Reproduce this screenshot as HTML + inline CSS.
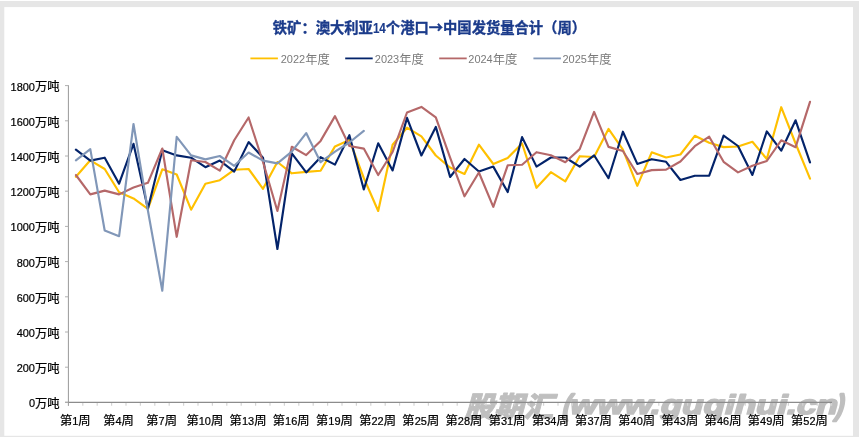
<!DOCTYPE html>
<html lang="zh-CN"><head><meta charset="utf-8"><title>铁矿：澳大利亚14个港口→中国发货量合计（周）</title>
<style>html,body{margin:0;padding:0;background:#fff}svg{display:block}text{font-family:'Liberation Sans','Noto Sans CJK SC',sans-serif}</style></head><body>
<svg width="865" height="437" viewBox="0 0 865 437">
<rect x="0" y="0" width="865" height="437" fill="#ffffff"/>
<rect x="0" y="1" width="859" height="436" fill="#e6e6e6"/>
<rect x="4.3" y="7.1" width="848.7" height="428.7" fill="#ffffff"/>
<g transform="translate(464.5,416.6) skewX(-15)" fill="#bfbfbf" stroke="#bfbfbf" stroke-linejoin="round"><text x="0" y="0" font-size="28.5" font-weight="900" stroke-width="0.9" textLength="88.5" lengthAdjust="spacingAndGlyphs">股期汇</text><text x="96.8" y="-1.2" font-size="29" font-weight="bold" stroke-width="2.6" textLength="7.5" lengthAdjust="spacingAndGlyphs">(</text><text x="103.5" y="-2.4" font-size="27" font-weight="bold" stroke-width="1.7" textLength="267.5" lengthAdjust="spacingAndGlyphs">www.guqihui.cn</text><text x="370" y="-1.2" font-size="29" font-weight="bold" stroke-width="2.6" textLength="7.5" lengthAdjust="spacingAndGlyphs">)</text></g>
<text x="272.80" y="32.60" font-size="14.3" fill="#1b3b8b" font-weight="bold" stroke="#1b3b8b" stroke-width="0.35"><tspan>铁矿：澳大利亚</tspan><tspan font-size="14.60" stroke="#1b3b8b" stroke-width="0.12" textLength="12.99" lengthAdjust="spacingAndGlyphs">14</tspan><tspan>个港口</tspan><tspan font-family="'Noto Sans CJK SC',sans-serif">→</tspan><tspan>中国发货量合计（周）</tspan></text>
<line x1="250.4" y1="58.4" x2="277.9" y2="58.4" stroke="#ffc000" stroke-width="1.8"/>
<text x="280.70" y="63.00" font-size="12.3" fill="#7a7a7a" font-weight="normal"><tspan font-size="11.70" textLength="24.45" lengthAdjust="spacingAndGlyphs">2022</tspan><tspan dy="0.80">年度</tspan></text>
<line x1="345.2" y1="58.4" x2="372.7" y2="58.4" stroke="#03236a" stroke-width="1.8"/>
<text x="374.80" y="63.00" font-size="12.3" fill="#7a7a7a" font-weight="normal"><tspan font-size="11.70" textLength="24.45" lengthAdjust="spacingAndGlyphs">2023</tspan><tspan dy="0.80">年度</tspan></text>
<line x1="439.2" y1="58.4" x2="466.7" y2="58.4" stroke="#b56869" stroke-width="1.8"/>
<text x="468.30" y="63.00" font-size="12.3" fill="#7a7a7a" font-weight="normal"><tspan font-size="11.70" textLength="24.45" lengthAdjust="spacingAndGlyphs">2024</tspan><tspan dy="0.80">年度</tspan></text>
<line x1="533.4" y1="58.4" x2="560.9" y2="58.4" stroke="#8197b8" stroke-width="1.8"/>
<text x="562.50" y="63.00" font-size="12.3" fill="#7a7a7a" font-weight="normal"><tspan font-size="11.70" textLength="24.45" lengthAdjust="spacingAndGlyphs">2025</tspan><tspan dy="0.80">年度</tspan></text>
<line x1="68.4" y1="85.2" x2="68.4" y2="405.9" stroke="#999999" stroke-width="1"/>
<line x1="65" y1="402.4" x2="832" y2="402.4" stroke="#8c8c8c" stroke-width="1.2"/>
<line x1="65" y1="402.40" x2="68.4" y2="402.40" stroke="#b0b0b0" stroke-width="1"/>
<text x="28.89" y="407.30" font-size="12.3" fill="#000000" font-weight="normal" stroke="#000000" stroke-width="0.22"><tspan font-size="11.70" textLength="6.11" lengthAdjust="spacingAndGlyphs">0</tspan><tspan dy="0.80">万吨</tspan></text>
<line x1="65" y1="367.20" x2="68.4" y2="367.20" stroke="#b0b0b0" stroke-width="1"/>
<text x="16.66" y="372.10" font-size="12.3" fill="#000000" font-weight="normal" stroke="#000000" stroke-width="0.22"><tspan font-size="11.70" textLength="18.34" lengthAdjust="spacingAndGlyphs">200</tspan><tspan dy="0.80">万吨</tspan></text>
<line x1="65" y1="332.00" x2="68.4" y2="332.00" stroke="#b0b0b0" stroke-width="1"/>
<text x="16.66" y="336.90" font-size="12.3" fill="#000000" font-weight="normal" stroke="#000000" stroke-width="0.22"><tspan font-size="11.70" textLength="18.34" lengthAdjust="spacingAndGlyphs">400</tspan><tspan dy="0.80">万吨</tspan></text>
<line x1="65" y1="296.80" x2="68.4" y2="296.80" stroke="#b0b0b0" stroke-width="1"/>
<text x="16.66" y="301.70" font-size="12.3" fill="#000000" font-weight="normal" stroke="#000000" stroke-width="0.22"><tspan font-size="11.70" textLength="18.34" lengthAdjust="spacingAndGlyphs">600</tspan><tspan dy="0.80">万吨</tspan></text>
<line x1="65" y1="261.60" x2="68.4" y2="261.60" stroke="#b0b0b0" stroke-width="1"/>
<text x="16.66" y="266.50" font-size="12.3" fill="#000000" font-weight="normal" stroke="#000000" stroke-width="0.22"><tspan font-size="11.70" textLength="18.34" lengthAdjust="spacingAndGlyphs">800</tspan><tspan dy="0.80">万吨</tspan></text>
<line x1="65" y1="226.40" x2="68.4" y2="226.40" stroke="#b0b0b0" stroke-width="1"/>
<text x="10.55" y="231.30" font-size="12.3" fill="#000000" font-weight="normal" stroke="#000000" stroke-width="0.22"><tspan font-size="11.70" textLength="24.45" lengthAdjust="spacingAndGlyphs">1000</tspan><tspan dy="0.80">万吨</tspan></text>
<line x1="65" y1="191.20" x2="68.4" y2="191.20" stroke="#b0b0b0" stroke-width="1"/>
<text x="10.55" y="196.10" font-size="12.3" fill="#000000" font-weight="normal" stroke="#000000" stroke-width="0.22"><tspan font-size="11.70" textLength="24.45" lengthAdjust="spacingAndGlyphs">1200</tspan><tspan dy="0.80">万吨</tspan></text>
<line x1="65" y1="156.00" x2="68.4" y2="156.00" stroke="#b0b0b0" stroke-width="1"/>
<text x="10.55" y="160.90" font-size="12.3" fill="#000000" font-weight="normal" stroke="#000000" stroke-width="0.22"><tspan font-size="11.70" textLength="24.45" lengthAdjust="spacingAndGlyphs">1400</tspan><tspan dy="0.80">万吨</tspan></text>
<line x1="65" y1="120.80" x2="68.4" y2="120.80" stroke="#b0b0b0" stroke-width="1"/>
<text x="10.55" y="125.70" font-size="12.3" fill="#000000" font-weight="normal" stroke="#000000" stroke-width="0.22"><tspan font-size="11.70" textLength="24.45" lengthAdjust="spacingAndGlyphs">1600</tspan><tspan dy="0.80">万吨</tspan></text>
<line x1="65" y1="85.60" x2="68.4" y2="85.60" stroke="#b0b0b0" stroke-width="1"/>
<text x="10.55" y="90.50" font-size="12.3" fill="#000000" font-weight="normal" stroke="#000000" stroke-width="0.22"><tspan font-size="11.70" textLength="24.45" lengthAdjust="spacingAndGlyphs">1800</tspan><tspan dy="0.80">万吨</tspan></text>
<line x1="82.80" y1="403" x2="82.80" y2="405.7" stroke="#d4d4d4" stroke-width="1.2"/>
<line x1="97.20" y1="403" x2="97.20" y2="405.7" stroke="#d4d4d4" stroke-width="1.2"/>
<line x1="111.60" y1="403" x2="111.60" y2="405.7" stroke="#d4d4d4" stroke-width="1.2"/>
<line x1="126.00" y1="403" x2="126.00" y2="405.7" stroke="#d4d4d4" stroke-width="1.2"/>
<line x1="140.40" y1="403" x2="140.40" y2="405.7" stroke="#d4d4d4" stroke-width="1.2"/>
<line x1="154.80" y1="403" x2="154.80" y2="405.7" stroke="#d4d4d4" stroke-width="1.2"/>
<line x1="169.20" y1="403" x2="169.20" y2="405.7" stroke="#d4d4d4" stroke-width="1.2"/>
<line x1="183.60" y1="403" x2="183.60" y2="405.7" stroke="#d4d4d4" stroke-width="1.2"/>
<line x1="198.00" y1="403" x2="198.00" y2="405.7" stroke="#d4d4d4" stroke-width="1.2"/>
<line x1="212.40" y1="403" x2="212.40" y2="405.7" stroke="#d4d4d4" stroke-width="1.2"/>
<line x1="226.80" y1="403" x2="226.80" y2="405.7" stroke="#d4d4d4" stroke-width="1.2"/>
<line x1="241.20" y1="403" x2="241.20" y2="405.7" stroke="#d4d4d4" stroke-width="1.2"/>
<line x1="255.60" y1="403" x2="255.60" y2="405.7" stroke="#d4d4d4" stroke-width="1.2"/>
<line x1="270.00" y1="403" x2="270.00" y2="405.7" stroke="#d4d4d4" stroke-width="1.2"/>
<line x1="284.40" y1="403" x2="284.40" y2="405.7" stroke="#d4d4d4" stroke-width="1.2"/>
<line x1="298.80" y1="403" x2="298.80" y2="405.7" stroke="#d4d4d4" stroke-width="1.2"/>
<line x1="313.20" y1="403" x2="313.20" y2="405.7" stroke="#d4d4d4" stroke-width="1.2"/>
<line x1="327.60" y1="403" x2="327.60" y2="405.7" stroke="#d4d4d4" stroke-width="1.2"/>
<line x1="342.00" y1="403" x2="342.00" y2="405.7" stroke="#d4d4d4" stroke-width="1.2"/>
<line x1="356.40" y1="403" x2="356.40" y2="405.7" stroke="#d4d4d4" stroke-width="1.2"/>
<line x1="370.80" y1="403" x2="370.80" y2="405.7" stroke="#d4d4d4" stroke-width="1.2"/>
<line x1="385.20" y1="403" x2="385.20" y2="405.7" stroke="#d4d4d4" stroke-width="1.2"/>
<line x1="399.60" y1="403" x2="399.60" y2="405.7" stroke="#d4d4d4" stroke-width="1.2"/>
<line x1="414.00" y1="403" x2="414.00" y2="405.7" stroke="#d4d4d4" stroke-width="1.2"/>
<line x1="428.40" y1="403" x2="428.40" y2="405.7" stroke="#d4d4d4" stroke-width="1.2"/>
<line x1="442.80" y1="403" x2="442.80" y2="405.7" stroke="#d4d4d4" stroke-width="1.2"/>
<line x1="457.20" y1="403" x2="457.20" y2="405.7" stroke="#d4d4d4" stroke-width="1.2"/>
<line x1="471.60" y1="403" x2="471.60" y2="405.7" stroke="#d4d4d4" stroke-width="1.2"/>
<line x1="486.00" y1="403" x2="486.00" y2="405.7" stroke="#d4d4d4" stroke-width="1.2"/>
<line x1="500.40" y1="403" x2="500.40" y2="405.7" stroke="#d4d4d4" stroke-width="1.2"/>
<line x1="514.80" y1="403" x2="514.80" y2="405.7" stroke="#d4d4d4" stroke-width="1.2"/>
<line x1="529.20" y1="403" x2="529.20" y2="405.7" stroke="#d4d4d4" stroke-width="1.2"/>
<line x1="543.60" y1="403" x2="543.60" y2="405.7" stroke="#d4d4d4" stroke-width="1.2"/>
<line x1="558.00" y1="403" x2="558.00" y2="405.7" stroke="#d4d4d4" stroke-width="1.2"/>
<line x1="572.40" y1="403" x2="572.40" y2="405.7" stroke="#d4d4d4" stroke-width="1.2"/>
<line x1="586.80" y1="403" x2="586.80" y2="405.7" stroke="#d4d4d4" stroke-width="1.2"/>
<line x1="601.20" y1="403" x2="601.20" y2="405.7" stroke="#d4d4d4" stroke-width="1.2"/>
<line x1="615.60" y1="403" x2="615.60" y2="405.7" stroke="#d4d4d4" stroke-width="1.2"/>
<line x1="630.00" y1="403" x2="630.00" y2="405.7" stroke="#d4d4d4" stroke-width="1.2"/>
<line x1="644.40" y1="403" x2="644.40" y2="405.7" stroke="#d4d4d4" stroke-width="1.2"/>
<line x1="658.80" y1="403" x2="658.80" y2="405.7" stroke="#d4d4d4" stroke-width="1.2"/>
<line x1="673.20" y1="403" x2="673.20" y2="405.7" stroke="#d4d4d4" stroke-width="1.2"/>
<line x1="687.60" y1="403" x2="687.60" y2="405.7" stroke="#d4d4d4" stroke-width="1.2"/>
<line x1="702.00" y1="403" x2="702.00" y2="405.7" stroke="#d4d4d4" stroke-width="1.2"/>
<line x1="716.40" y1="403" x2="716.40" y2="405.7" stroke="#d4d4d4" stroke-width="1.2"/>
<line x1="730.80" y1="403" x2="730.80" y2="405.7" stroke="#d4d4d4" stroke-width="1.2"/>
<line x1="745.20" y1="403" x2="745.20" y2="405.7" stroke="#d4d4d4" stroke-width="1.2"/>
<line x1="759.60" y1="403" x2="759.60" y2="405.7" stroke="#d4d4d4" stroke-width="1.2"/>
<line x1="774.00" y1="403" x2="774.00" y2="405.7" stroke="#d4d4d4" stroke-width="1.2"/>
<line x1="788.40" y1="403" x2="788.40" y2="405.7" stroke="#d4d4d4" stroke-width="1.2"/>
<line x1="802.80" y1="403" x2="802.80" y2="405.7" stroke="#d4d4d4" stroke-width="1.2"/>
<line x1="817.20" y1="403" x2="817.20" y2="405.7" stroke="#d4d4d4" stroke-width="1.2"/>
<line x1="831.60" y1="403" x2="831.60" y2="405.7" stroke="#d4d4d4" stroke-width="1.2"/>
<text x="59.94" y="424.60" font-size="12.3" fill="#000000" font-weight="normal" stroke="#000000" stroke-width="0.22"><tspan dy="0.80">第</tspan><tspan dy="-0.80" font-size="11.70" textLength="6.11" lengthAdjust="spacingAndGlyphs">1</tspan><tspan dy="0.80">周</tspan></text>
<text x="103.13" y="424.60" font-size="12.3" fill="#000000" font-weight="normal" stroke="#000000" stroke-width="0.22"><tspan dy="0.80">第</tspan><tspan dy="-0.80" font-size="11.70" textLength="6.11" lengthAdjust="spacingAndGlyphs">4</tspan><tspan dy="0.80">周</tspan></text>
<text x="146.31" y="424.60" font-size="12.3" fill="#000000" font-weight="normal" stroke="#000000" stroke-width="0.22"><tspan dy="0.80">第</tspan><tspan dy="-0.80" font-size="11.70" textLength="6.11" lengthAdjust="spacingAndGlyphs">7</tspan><tspan dy="0.80">周</tspan></text>
<text x="186.43" y="424.60" font-size="12.3" fill="#000000" font-weight="normal" stroke="#000000" stroke-width="0.22"><tspan dy="0.80">第</tspan><tspan dy="-0.80" font-size="11.70" textLength="12.23" lengthAdjust="spacingAndGlyphs">10</tspan><tspan dy="0.80">周</tspan></text>
<text x="229.61" y="424.60" font-size="12.3" fill="#000000" font-weight="normal" stroke="#000000" stroke-width="0.22"><tspan dy="0.80">第</tspan><tspan dy="-0.80" font-size="11.70" textLength="12.23" lengthAdjust="spacingAndGlyphs">13</tspan><tspan dy="0.80">周</tspan></text>
<text x="272.80" y="424.60" font-size="12.3" fill="#000000" font-weight="normal" stroke="#000000" stroke-width="0.22"><tspan dy="0.80">第</tspan><tspan dy="-0.80" font-size="11.70" textLength="12.23" lengthAdjust="spacingAndGlyphs">16</tspan><tspan dy="0.80">周</tspan></text>
<text x="315.98" y="424.60" font-size="12.3" fill="#000000" font-weight="normal" stroke="#000000" stroke-width="0.22"><tspan dy="0.80">第</tspan><tspan dy="-0.80" font-size="11.70" textLength="12.23" lengthAdjust="spacingAndGlyphs">19</tspan><tspan dy="0.80">周</tspan></text>
<text x="359.16" y="424.60" font-size="12.3" fill="#000000" font-weight="normal" stroke="#000000" stroke-width="0.22"><tspan dy="0.80">第</tspan><tspan dy="-0.80" font-size="11.70" textLength="12.23" lengthAdjust="spacingAndGlyphs">22</tspan><tspan dy="0.80">周</tspan></text>
<text x="402.34" y="424.60" font-size="12.3" fill="#000000" font-weight="normal" stroke="#000000" stroke-width="0.22"><tspan dy="0.80">第</tspan><tspan dy="-0.80" font-size="11.70" textLength="12.23" lengthAdjust="spacingAndGlyphs">25</tspan><tspan dy="0.80">周</tspan></text>
<text x="445.52" y="424.60" font-size="12.3" fill="#000000" font-weight="normal" stroke="#000000" stroke-width="0.22"><tspan dy="0.80">第</tspan><tspan dy="-0.80" font-size="11.70" textLength="12.23" lengthAdjust="spacingAndGlyphs">28</tspan><tspan dy="0.80">周</tspan></text>
<text x="488.71" y="424.60" font-size="12.3" fill="#000000" font-weight="normal" stroke="#000000" stroke-width="0.22"><tspan dy="0.80">第</tspan><tspan dy="-0.80" font-size="11.70" textLength="12.23" lengthAdjust="spacingAndGlyphs">31</tspan><tspan dy="0.80">周</tspan></text>
<text x="531.89" y="424.60" font-size="12.3" fill="#000000" font-weight="normal" stroke="#000000" stroke-width="0.22"><tspan dy="0.80">第</tspan><tspan dy="-0.80" font-size="11.70" textLength="12.23" lengthAdjust="spacingAndGlyphs">34</tspan><tspan dy="0.80">周</tspan></text>
<text x="575.07" y="424.60" font-size="12.3" fill="#000000" font-weight="normal" stroke="#000000" stroke-width="0.22"><tspan dy="0.80">第</tspan><tspan dy="-0.80" font-size="11.70" textLength="12.23" lengthAdjust="spacingAndGlyphs">37</tspan><tspan dy="0.80">周</tspan></text>
<text x="618.25" y="424.60" font-size="12.3" fill="#000000" font-weight="normal" stroke="#000000" stroke-width="0.22"><tspan dy="0.80">第</tspan><tspan dy="-0.80" font-size="11.70" textLength="12.23" lengthAdjust="spacingAndGlyphs">40</tspan><tspan dy="0.80">周</tspan></text>
<text x="661.43" y="424.60" font-size="12.3" fill="#000000" font-weight="normal" stroke="#000000" stroke-width="0.22"><tspan dy="0.80">第</tspan><tspan dy="-0.80" font-size="11.70" textLength="12.23" lengthAdjust="spacingAndGlyphs">43</tspan><tspan dy="0.80">周</tspan></text>
<text x="704.62" y="424.60" font-size="12.3" fill="#000000" font-weight="normal" stroke="#000000" stroke-width="0.22"><tspan dy="0.80">第</tspan><tspan dy="-0.80" font-size="11.70" textLength="12.23" lengthAdjust="spacingAndGlyphs">46</tspan><tspan dy="0.80">周</tspan></text>
<text x="747.80" y="424.60" font-size="12.3" fill="#000000" font-weight="normal" stroke="#000000" stroke-width="0.22"><tspan dy="0.80">第</tspan><tspan dy="-0.80" font-size="11.70" textLength="12.23" lengthAdjust="spacingAndGlyphs">49</tspan><tspan dy="0.80">周</tspan></text>
<text x="790.98" y="424.60" font-size="12.3" fill="#000000" font-weight="normal" stroke="#000000" stroke-width="0.22"><tspan dy="0.80">第</tspan><tspan dy="-0.80" font-size="11.70" textLength="12.23" lengthAdjust="spacingAndGlyphs">52</tspan><tspan dy="0.80">周</tspan></text>
<polyline points="75.9,176.8 90.3,160.3 104.7,169.0 119.1,192.3 133.5,198.4 147.9,208.8 162.3,169.3 176.7,174.5 191.1,209.7 205.4,183.7 219.8,180.2 234.2,169.8 248.6,169.0 263.0,188.8 277.4,162.0 291.8,173.3 306.2,171.9 320.6,170.7 335.0,146.4 349.4,140.0 363.8,178.0 378.2,211.0 392.6,144.7 407.0,127.7 421.4,136.4 435.8,155.5 450.1,167.6 464.5,174.0 478.9,144.7 493.3,164.0 507.7,157.9 522.1,143.5 536.5,187.8 550.9,172.2 565.3,181.4 579.7,156.2 594.1,157.0 608.5,128.9 622.9,149.7 637.3,185.8 651.7,152.3 666.1,157.5 680.4,154.5 694.8,135.8 709.2,142.7 723.6,147.1 738.0,146.5 752.4,141.8 766.8,159.0 781.2,107.2 795.6,143.5 810.0,178.7" fill="none" stroke="#ffc000" stroke-width="2.15" stroke-linejoin="round" stroke-linecap="round"/>
<polyline points="75.9,149.6 90.3,160.6 104.7,157.7 119.1,183.7 133.5,143.8 147.9,208.8 162.3,150.2 176.7,155.4 191.1,157.7 205.4,167.2 219.8,160.6 234.2,171.6 248.6,142.1 263.0,157.7 277.4,249.0 291.8,153.3 306.2,172.4 320.6,157.2 335.0,164.6 349.4,135.2 363.8,189.5 378.2,143.3 392.6,170.4 407.0,117.9 421.4,155.5 435.8,126.9 450.1,177.0 464.5,159.0 478.9,171.5 493.3,166.6 507.7,192.0 522.1,137.1 536.5,166.6 550.9,157.5 565.3,157.5 579.7,166.6 594.1,155.3 608.5,178.2 622.9,131.7 637.3,163.9 651.7,159.2 666.1,161.8 680.4,180.0 694.8,175.7 709.2,175.7 723.6,135.6 738.0,146.0 752.4,175.0 766.8,131.4 781.2,150.7 795.6,120.3 810.0,162.4" fill="none" stroke="#03236a" stroke-width="2.15" stroke-linejoin="round" stroke-linecap="round"/>
<polyline points="75.9,175.0 90.3,194.4 104.7,190.6 119.1,194.4 133.5,187.5 147.9,182.8 162.3,148.5 176.7,236.8 191.1,160.3 205.4,162.0 219.8,170.7 234.2,140.3 248.6,117.5 263.0,162.0 277.4,211.0 291.8,146.8 306.2,155.1 320.6,140.9 335.0,116.1 349.4,146.0 363.8,148.6 378.2,175.0 392.6,152.0 407.0,112.5 421.4,106.9 435.8,117.3 450.1,157.7 464.5,196.3 478.9,172.5 493.3,206.8 507.7,165.3 522.1,164.8 536.5,152.2 550.9,155.3 565.3,162.2 579.7,149.1 594.1,111.9 608.5,146.9 622.9,151.0 637.3,174.0 651.7,170.1 666.1,169.6 680.4,161.5 694.8,146.2 709.2,136.7 723.6,161.8 738.0,172.4 752.4,165.7 766.8,161.0 781.2,140.3 795.6,147.2 810.0,101.8" fill="none" stroke="#b56869" stroke-width="2.15" stroke-linejoin="round" stroke-linecap="round"/>
<polyline points="75.9,160.3 90.3,149.1 104.7,230.5 119.1,236.2 133.5,124.0 147.9,210.5 162.3,290.7 176.7,136.9 191.1,155.4 205.4,159.4 219.8,156.0 234.2,165.8 248.6,152.5 263.0,160.6 277.4,163.4 291.8,151.6 306.2,133.1 320.6,162.2 335.0,151.6 349.4,142.5 363.8,130.9" fill="none" stroke="#8197b8" stroke-width="2.15" stroke-linejoin="round" stroke-linecap="round"/>
</svg></body></html>
